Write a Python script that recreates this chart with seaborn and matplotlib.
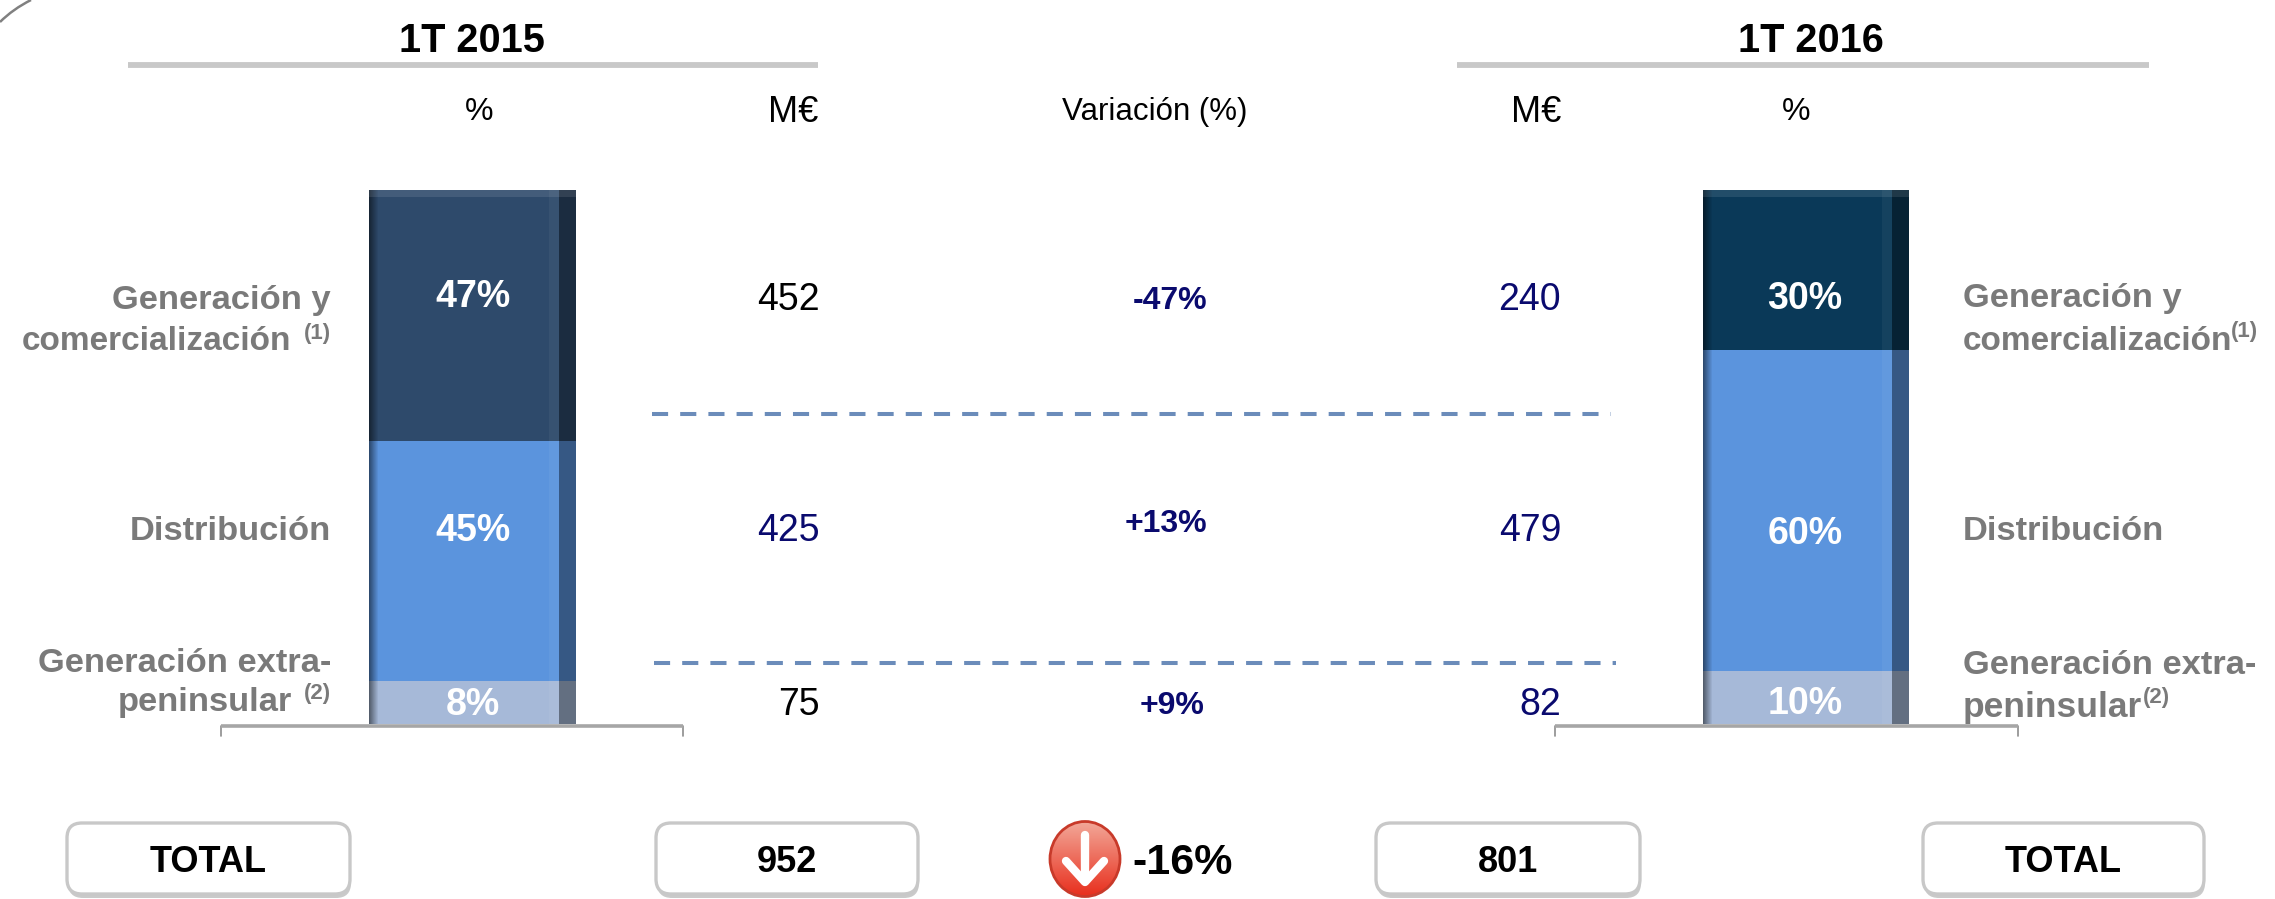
import numpy as np
import matplotlib
matplotlib.use("Agg")
import matplotlib.pyplot as plt
from matplotlib.patches import FancyBboxPatch, Ellipse, PathPatch
from matplotlib.path import Path
import seaborn as sns

# values
segments = ["Generación y comercialización", "Distribución", "Generación extra-peninsular"]
pct_2015 = [47, 45, 8]
pct_2016 = [30, 60, 10]
meur_2015 = [452, 425, 75]
meur_2016 = [240, 479, 82]
variation = ["-47%", "+13%", "+9%"]
total_2015 = 952
total_2016 = 801
total_var = "-16%"

colors_2015 = ["#2e4a6b", "#5b94dd", "#a6b9d8"]
colors_2016 = ["#0a3958", "#5b94dd", "#a6b9d8"]
GREY = "#7a7a7a"
NAVY = "#0a0a6e"

sns.set_theme(style="white")
plt.rcParams["font.family"] = ["Liberation Sans", "DejaVu Sans"]

W, H = 2275, 899
fig = plt.figure(figsize=(W / 100, H / 100), dpi=100, facecolor="white")

# whole figure axes in pixels for the text and decorations
bg = fig.add_axes([0, 0, 1, 1])
bg.set_xlim(0, W)
bg.set_ylim(H, 0)
bg.axis("off")


def stacked_bar(x0, x1, y0, y1, label, values, colors):
    ax = fig.add_axes([x0 / W, 1 - y1 / H, (x1 - x0) / W, (y1 - y0) / H], zorder=2)
    bottom = 0
    # start at the bottom of the stack
    for val, col in zip(values[::-1], colors[::-1]):
        sns.barplot(x=[label], y=[val], bottom=bottom, color=col, saturation=1, width=1,
                    linewidth=0, ax=ax)
        bottom += val
    ax.set_xlim(-0.5, 0.5)
    ax.set_ylim(0, 100)
    ax.axis("off")
    # the fake 3d shading of the bar
    n = x1 - x0
    prof = np.zeros((1, n, 4))
    xs = np.arange(n)
    prof[0, :, 3] = np.clip(0.5 * (1 - xs / 9), 0, 1)
    prof[0, (xs > n - 28) & (xs <= n - 18), :3] = 1
    prof[0, (xs > n - 28) & (xs <= n - 18), 3] = 0.05
    prof[0, xs > n - 18, 3] = 0.4
    ax.imshow(prof, extent=[-0.5, 0.5, 0, 100], aspect="auto", zorder=5, interpolation="nearest")
    ax.axhspan(98.6, 100, color="white", alpha=0.1, lw=0, zorder=6)
    ax.set_xlim(-0.5, 0.5)
    ax.set_ylim(0, 100)
    return ax


stacked_bar(369, 576, 190, 724, "1T 2015", pct_2015, colors_2015)
stacked_bar(1703, 1909, 190, 724, "1T 2016", pct_2016, colors_2016)

# over the bars, so one more axes for the labels
top = fig.add_axes([0, 0, 1, 1], zorder=3)
top.set_xlim(0, W)
top.set_ylim(H, 0)
top.axis("off")
top.patch.set_alpha(0)


def txt(x, y, s, size, color="black", weight="normal", ha="center"):
    top.text(x, y + 4, s, fontsize=size, color=color, fontweight=weight, ha=ha, va="center")


# headers
txt(472, 37, "1T 2015", 28.5, weight="bold")
txt(1811, 37, "1T 2016", 28.5, weight="bold")
bg.plot([128, 818], [65, 65], color="#c8c8c8", lw=4.2, solid_capstyle="butt")
bg.plot([1457, 2149], [65, 65], color="#c8c8c8", lw=4.2, solid_capstyle="butt")
txt(479, 108, "%", 23)
txt(818, 108, "M€", 26, ha="right")
txt(1155, 108, "Variación (%)", 22.5)
txt(1561, 108, "M€", 26, ha="right")
txt(1796, 108, "%", 23)

# labels inside the bars
for y, v in zip([293, 527, 701], pct_2015):
    txt(473, y, f"{v}%", 27, color="white", weight="bold")
for y, v in zip([295, 530, 700], pct_2016):
    txt(1805, y, f"{v}%", 27, color="white", weight="bold")

# M€ columns and variation
for y, v, c in zip([296, 527, 701], meur_2015, ["black", NAVY, "black"]):
    txt(820, y, str(v), 27, color=c, ha="right")
for y, v in zip([296, 527, 701], meur_2016):
    txt(1561, y, str(v), 27, color=NAVY, ha="right")
for x, y, v in zip([1170, 1166, 1172], [297, 520, 702], variation):
    txt(x, y, v, 23, color=NAVY, weight="bold")

# left labels
first, second = segments[0].split(" comer")
txt(331, 296, first, 24.8, color=GREY, weight="bold", ha="right")
txt(291, 338, "comer" + second, 24, color=GREY, weight="bold", ha="right")
txt(331, 329, "(1)", 16, color=GREY, weight="bold", ha="right")
txt(331, 527, segments[1], 24.8, color=GREY, weight="bold", ha="right")
extra1, extra2 = segments[2].split("-")
txt(331, 660, extra1 + "-", 24.8, color=GREY, weight="bold", ha="right")
txt(292, 699, extra2, 24.8, color=GREY, weight="bold", ha="right")
txt(331, 690, "(2)", 16, color=GREY, weight="bold", ha="right")

# right labels
txt(1963, 295, first, 24.8, color=GREY, weight="bold", ha="left")
txt(1963, 337, "comer" + second, 24, color=GREY, weight="bold", ha="left")
txt(2231, 327, "(1)", 16, color=GREY, weight="bold", ha="left")
txt(1963, 527, segments[1], 24.8, color=GREY, weight="bold", ha="left")
txt(1963, 662, extra1 + "-", 24.8, color=GREY, weight="bold", ha="left")
txt(1963, 703, extra2, 25.5, color=GREY, weight="bold", ha="left")
txt(2143, 694, "(2)", 16, color=GREY, weight="bold", ha="left")

# dashed separators
bg.plot([652, 1611], [414, 414], color="#6b8cba", lw=2.9, dashes=(4, 3))
bg.plot([654, 1616], [663, 663], color="#6b8cba", lw=2.9, dashes=(4, 3))

# brackets under the bars
for x0, x1 in [(221, 683), (1555, 2018)]:
    top.plot([x0, x1], [726, 726], color="#a6a6a6", lw=2.6, solid_capstyle="butt")
    bg.plot([x0, x0], [726, 736], color="#8c8c8c", lw=1.2)
    bg.plot([x1, x1], [726, 736], color="#8c8c8c", lw=1.2)

# total boxes
for x0, x1, s in [(67, 350, "TOTAL"), (656, 918, str(total_2015)),
                  (1376, 1640, str(total_2016)), (1923, 2204, "TOTAL")]:
    bg.add_patch(FancyBboxPatch((x0 + 1, 828), x1 - x0, 70, boxstyle="round,pad=0,rounding_size=15",
                                fc="#b4b4b4", ec="none", alpha=0.7))
    bg.add_patch(FancyBboxPatch((x0, 823), x1 - x0, 71, boxstyle="round,pad=0,rounding_size=15",
                                fc="white", ec="#c8c8c8", lw=2.4))
    txt((x0 + x1) / 2, 859, s, 26, weight="bold")

# red arrow icon
grad = np.linspace(0, 1, 80)[:, None]
c_top = np.array([0.95, 0.66, 0.60])
c_bot = np.array([0.91, 0.18, 0.11])
img = (c_top + (c_bot - c_top) * grad[:, :, None])
im = bg.imshow(img, extent=[1049, 1121, 897, 821], aspect="auto", zorder=2)
clip = Ellipse((1085, 859), 70, 75, transform=bg.transData, fc="none", ec="#c83a2a", lw=2, zorder=3)
bg.add_patch(clip)
im.set_clip_path(clip)
bg.set_xlim(0, W)
bg.set_ylim(H, 0)
bg.plot([1085, 1085], [835, 880], color="white", lw=6, solid_capstyle="round", zorder=4)
bg.plot([1066, 1085, 1104], [861, 882, 861], color="white", lw=6, solid_capstyle="round",
        solid_joinstyle="round", zorder=4)
txt(1183, 859, total_var, 31, weight="bold")

# bit of the slide's corner arc, top left
arc = Path([(0, 22), (13, 9), (31, 0)], [Path.MOVETO, Path.CURVE3, Path.CURVE3])
bg.add_patch(PathPatch(arc, fc="none", ec="#808080", lw=1.8))

fig.savefig("out.png", dpi=100)
